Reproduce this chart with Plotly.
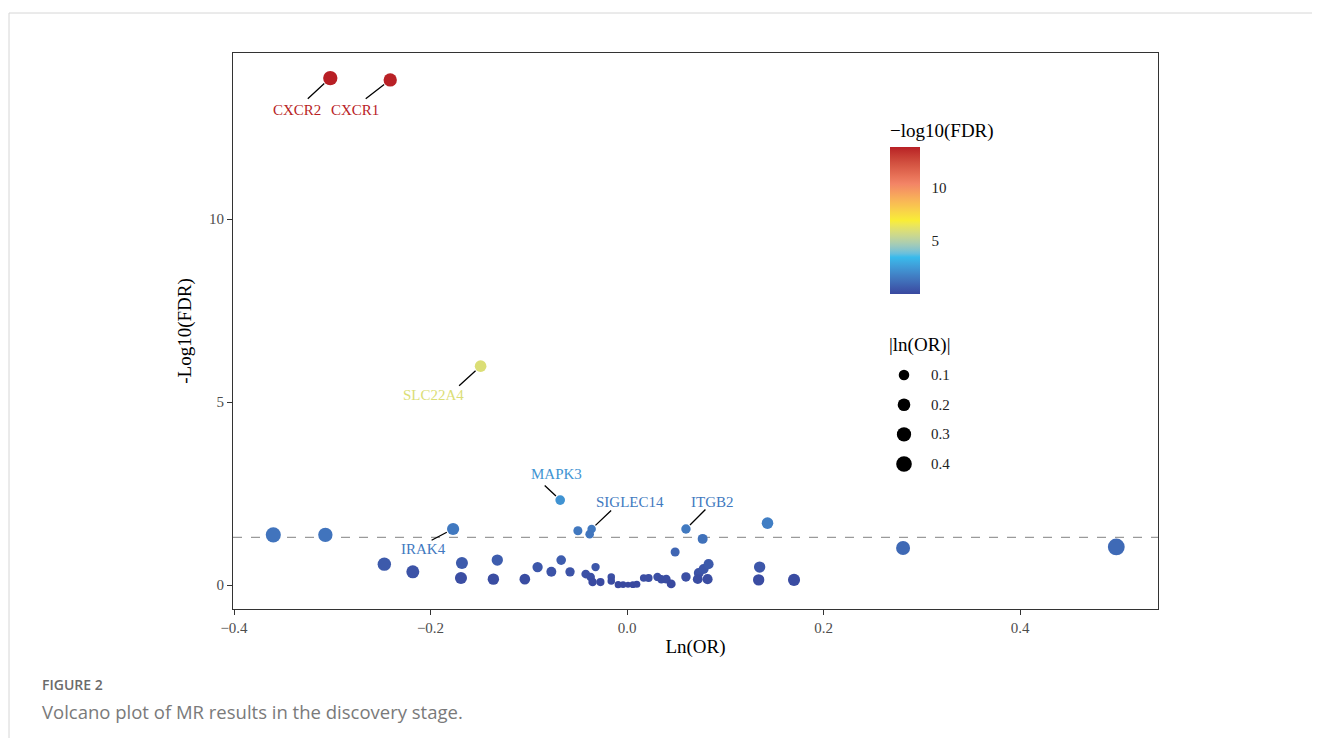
import plotly.graph_objects as go
import numpy as np

# ---------------- data ----------------
genes = ["CXCR2", "CXCR1", "SLC22A4", "MAPK3", "SIGLEC14", "", "", "ITGB2", "", "",
         "", "", "", "IRAK4", "", "", "", "", "", "",
         "", "", "", "", "", "", "", "", "", "",
         "", "", "", "", "", "", "", "", "", "",
         "", "", "", "", "", "", "", "", "", "",
         "", "", "", ""]
ln_or = [-0.302, -0.241, -0.149, -0.068, -0.036, -0.038, -0.050, 0.060, 0.077, 0.143,
         0.049, -0.360, -0.307, -0.177, -0.247, -0.218, -0.168, -0.169, -0.132, -0.136,
         -0.104, -0.091, -0.077, -0.067, -0.058, -0.042, -0.032, -0.037, -0.035, -0.027,
         -0.016, -0.016, -0.009, -0.004, 0.001, 0.006, 0.010, 0.017, 0.022, 0.031,
         0.035, 0.040, 0.045, 0.060, 0.073, 0.078, 0.083, 0.072, 0.082, 0.135,
         0.134, 0.170, 0.281, 0.498]
neg_log10_fdr = [13.85, 13.80, 5.98, 2.32, 1.53, 1.39, 1.48, 1.53, 1.26, 1.69,
                 0.90, 1.37, 1.37, 1.53, 0.57, 0.36, 0.60, 0.19, 0.68, 0.16,
                 0.16, 0.49, 0.36, 0.68, 0.36, 0.30, 0.49, 0.22, 0.08, 0.08,
                 0.22, 0.11, 0.01, 0.01, 0.01, 0.01, 0.02, 0.19, 0.19, 0.22,
                 0.16, 0.16, 0.03, 0.22, 0.33, 0.44, 0.57, 0.16, 0.16, 0.49,
                 0.14, 0.14, 1.01, 1.04]
fdr_threshold = 0.05
size_legend_values = [0.1, 0.2, 0.3, 0.4]
colorbar_ticks = [5, 10]
x_ticks = [-0.4, -0.2, 0.0, 0.2, 0.4]
x_ticklabels = ["\u22120.4", "\u22120.2", "0.0", "0.2", "0.4"]
y_ticks = [0, 5, 10]

# label layout in pixels relative to the point: text centre offset and segment tail offset
label_text_offsets = {"CXCR2": (-33, 32), "CXCR1": (-35, 30), "SLC22A4": (-47, 29),
                      "MAPK3": (-4, -26), "SIGLEC14": (38, -27), "ITGB2": (27, -27),
                      "IRAK4": (-30, 20)}
label_segment_tails = {"CXCR2": (-24, 22), "CXCR1": (-26, 20), "SLC22A4": (-23, 21),
                       "MAPK3": (-17, -16), "SIGLEC14": (21, -20), "ITGB2": (21, -21),
                       "IRAK4": (-23, 12)}

# ---------------- style ----------------
palette = ["#39489f", "#39bbec", "#f9ed36", "#f38466", "#b81f25"]
SERIF = "Liberation Serif"
OFF = 8                      # page body margin
W, H = 1320 - OFF, 738 - OFF
L, R, T, B = 233, 1158, 53, 609   # plot area in screenshot pixels
CB_X0, CB_BOTTOM, CB_LEN, CB_THICK = 890, 294, 148, 30


def size_of(v):
    return 5.5 + 16 * np.sqrt(abs(v))


cmin, cmax = min(neg_log10_fdr), max(neg_log10_fdr)


def hex2rgb(h):
    return np.array([int(h[i:i + 2], 16) for i in (1, 3, 5)], dtype=float) / 255


def rgb2lab(c):
    c = np.where(c > 0.04045, ((c + 0.055) / 1.055) ** 2.4, c / 12.92)
    M = np.array([[0.4124, 0.3576, 0.1805], [0.2126, 0.7152, 0.0722], [0.0193, 0.1192, 0.9505]])
    xyz = M @ c / np.array([0.95047, 1.0, 1.08883])
    f = np.where(xyz > 0.008856, np.cbrt(xyz), 7.787 * xyz + 16 / 116)
    return np.array([116 * f[1] - 16, 500 * (f[0] - f[1]), 200 * (f[1] - f[2])])


def lab2rgb(lab):
    fy = (lab[0] + 16) / 116
    fx = fy + lab[1] / 500
    fz = fy - lab[2] / 200
    f = np.array([fx, fy, fz])
    xyz = np.where(f ** 3 > 0.008856, f ** 3, (f - 16 / 116) / 7.787) * np.array([0.95047, 1.0, 1.08883])
    Mi = np.array([[3.2406, -1.5372, -0.4986], [-0.9689, 1.8758, 0.0415], [0.0557, -0.2040, 1.0570]])
    c = Mi @ xyz
    c = np.where(c > 0.0031308, 1.055 * np.abs(c) ** (1 / 2.4) - 0.055, 12.92 * c)
    return np.clip(c, 0, 1)


pal_lab = [rgb2lab(hex2rgb(h)) for h in palette]


def color_at(t):
    t = min(max(t, 0), 1) * (len(palette) - 1)
    i = min(int(t), len(palette) - 2)
    f = t - i
    c = lab2rgb(pal_lab[i] + (pal_lab[i + 1] - pal_lab[i]) * f)
    return "rgb(%d,%d,%d)" % tuple(int(round(v * 255)) for v in c)


def color_of(v):
    return color_at((v - cmin) / (cmax - cmin))


def px_x(p):
    return (p - L) / (R - L)


def px_y(p):
    return (B - p) / (B - T)


colorscale = [[k / 40, color_at(k / 40)] for k in range(41)]
sizes = [size_of(v) for v in ln_or]

fig = go.Figure()
fig.add_trace(go.Scatter(
    x=ln_or, y=neg_log10_fdr, mode="markers",
    marker=dict(size=sizes, color=neg_log10_fdr, colorscale=colorscale,
                cmin=cmin, cmax=cmax, opacity=1, line=dict(width=0),
                colorbar=dict(
                    title=dict(text="\u2212log10(FDR)", side="top",
                               font=dict(family=SERIF, size=19, color="black")),
                    x=px_x(CB_X0), xanchor="left", y=px_y(CB_BOTTOM), yanchor="bottom",
                    len=CB_LEN + 26, lenmode="pixels", thickness=CB_THICK, xpad=0, ypad=0,
                    outlinewidth=0, tickvals=colorbar_ticks, ticks="outside",
                    ticklen=9, tickcolor="rgba(0,0,0,0)", tickwidth=1,
                    tickfont=dict(family=SERIF, size=15, color="#222"))),
    showlegend=False, hoverinfo="x+y"))

# size legend on overlay axes
fig.add_trace(go.Scatter(
    x=[0] * len(size_legend_values), y=list(range(len(size_legend_values))),
    mode="markers", marker=dict(size=[size_of(v) for v in size_legend_values],
                                color="black", opacity=1, line=dict(width=0)),
    xaxis="x2", yaxis="y2", showlegend=False, hoverinfo="skip"))

annotations = []
for i, v in enumerate(size_legend_values):
    annotations.append(dict(x=25, y=i, xref="x2", yref="y2", text=f"{v:.1f}", showarrow=False,
                            xanchor="left", yanchor="middle",
                            font=dict(family=SERIF, size=15, color="#222")))
annotations.append(dict(x=px_x(887), y=px_y(345), xref="paper", yref="paper", text="|ln(OR)|",
                        showarrow=False, xanchor="left", yanchor="middle",
                        font=dict(family=SERIF, size=19, color="black")))

# gene labels (ggrepel style: text + separate segment)
for g, xv, yv, s in zip(genes, ln_or, neg_log10_fdr, sizes):
    if not g:
        continue
    tx, ty = label_text_offsets[g]
    sx, sy = label_segment_tails[g]
    annotations.append(dict(x=xv, y=yv, xref="x", yref="y", text=g, showarrow=False,
                            xshift=tx, yshift=-ty, xanchor="center", yanchor="middle",
                            font=dict(family=SERIF, size=15, color=color_of(yv))))
    annotations.append(dict(x=xv, y=yv, xref="x", yref="y", text="", showarrow=True,
                            ax=sx, ay=sy, arrowhead=0, arrowwidth=1.3, arrowcolor="black",
                            standoff=s / 2 + 1))

# caption
annotations.append(dict(x=px_x(40), y=px_y(684), xref="paper", yref="paper", text="FIGURE 2",
                        showarrow=False, xanchor="left", yanchor="middle",
                        font=dict(family="Open Sans", size=14, color="#6b6b6b", weight=600)))
annotations.append(dict(x=px_x(40), y=px_y(711), xref="paper", yref="paper",
                        text="Volcano plot of MR results in the discovery stage.",
                        showarrow=False, xanchor="left", yanchor="middle",
                        font=dict(family="Open Sans", size=18.5, color="#7a7a7a")))

shapes = [
    dict(type="line", xref="paper", yref="y", x0=0, x1=1,
         y0=-np.log10(fdr_threshold), y1=-np.log10(fdr_threshold),
         line=dict(color="#9a9a9a", width=1.4, dash="dash"), layer="below"),
    dict(type="rect", xref="paper", yref="paper", x0=px_x(9), x1=px_x(1340),
         y0=px_y(760), y1=px_y(13), line=dict(color="#d6d6d6", width=1),
         fillcolor="rgba(0,0,0,0)", layer="below"),
]
# white tick marks on the colour bar
for v in colorbar_ticks:
    yp = px_y(CB_BOTTOM - (v - cmin) / (cmax - cmin) * CB_LEN)
    for x0, x1 in ((CB_X0, CB_X0 + 6), (CB_X0 + CB_THICK - 6, CB_X0 + CB_THICK)):
        shapes.append(dict(type="line", xref="paper", yref="paper", x0=px_x(x0), x1=px_x(x1),
                           y0=yp, y1=yp, line=dict(color="white", width=1), layer="above"))

axis_common = dict(showgrid=False, zeroline=False, showline=True, mirror=True,
                   linecolor="#333333", linewidth=1, ticks="outside", ticklen=5,
                   tickcolor="#333333", tickfont=dict(family=SERIF, size=15, color="#4d4d4d"))

fig.update_layout(
    width=W, height=H, margin=dict(l=L - OFF, r=W - (R - OFF), t=T - OFF, b=H - (B - OFF)),
    plot_bgcolor="white", paper_bgcolor="white",
    xaxis=dict(range=[(L - 627) / 982.5, (R - 627) / 982.5], tickvals=x_ticks,
               ticktext=x_ticklabels,
               title=dict(text="Ln(OR)", font=dict(family=SERIF, size=19, color="black"),
                          standoff=4), **axis_common),
    yaxis=dict(range=[(585 - B) / 36.6, (585 - T) / 36.6], tickvals=y_ticks,
               title=dict(text="-Log10(FDR)", font=dict(family=SERIF, size=19, color="black"),
                          standoff=12), **axis_common),
    xaxis2=dict(domain=[px_x(880), px_x(980)], range=[-24, 76], visible=False,
                anchor="y2", fixedrange=True),
    yaxis2=dict(domain=[px_y(478.9), px_y(360.2)], range=[3.5, -0.5], visible=False,
                anchor="x2", fixedrange=True),
    annotations=annotations, shapes=shapes,
)

fig.write_html("out.html")
